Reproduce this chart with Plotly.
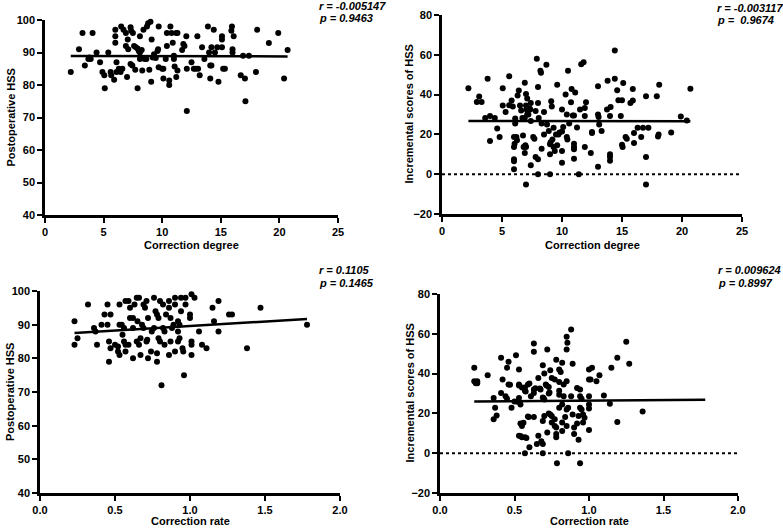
import plotly.graph_objects as go

# ---------------- data ----------------
# Top-left: Correction degree vs Postoperative HSS
tl_x = [2.2, 2.9, 3.2, 3.4, 3.7, 3.8, 3.9, 4.06, 4.4, 4.7, 4.9, 5.06, 5.1, 5.4, 5.6, 5.65, 5.9,
        6.0, 6.0, 6.0, 6.1, 6.1, 6.3, 6.45, 6.6, 6.5, 6.7, 6.9, 6.9, 7.0, 7.06, 7.1, 7.3, 7.45,
        7.3, 7.35, 7.5, 7.6, 7.75, 7.9, 7.7, 7.9, 8.0, 8.1, 8.25, 8.1, 8.1, 8.3, 8.4, 8.5, 8.65,
        8.7, 8.8, 9.0, 8.9, 9.06, 9.1, 9.2, 9.3, 9.45, 9.6, 9.65, 9.7, 9.7, 10.0, 10.1, 10.1,
        10.3, 10.4, 10.4, 10.6, 10.6, 10.7, 10.8, 10.9, 11.0, 11.0, 11.06, 11.2, 11.3, 11.2,
        11.3, 11.7, 11.8, 11.9, 12.06, 12.1, 12.1, 12.5, 12.7, 12.85, 13.0, 13.06, 13.2, 13.4,
        13.6, 13.9, 14.0, 14.1, 14.2, 14.1, 14.2, 14.4, 14.5, 14.7, 14.8, 15.1, 15.1, 15.1,
        15.2, 15.35, 15.9, 15.95, 16.0, 16.0, 16.1, 16.7, 16.9, 17.06, 17.1, 17.4, 18.0, 18.1,
        19.1, 19.9, 20.4, 20.7]
tl_y = [84, 91, 96, 86, 88, 88.5, 88, 96, 90, 87, 84, 83, 79, 90, 84, 83, 81.6,
        97, 95, 93, 87, 84, 85, 84, 85, 98, 97, 96, 92, 82.5, 94, 91, 86.5, 86,
        97.8, 96.7, 96, 92, 91.6, 91.2, 84.7, 79, 90.5, 90, 90.8, 95, 88, 84.5, 97, 88, 88,
        98, 99, 99.5, 84.7, 81, 94, 88.5, 89.5, 88.3, 90.5, 91, 85.5, 98, 85, 85, 82,
        88, 96, 92, 81.4, 80, 98, 96, 93, 88, 89, 85.7, 96, 96, 82.5,
        84.5, 90.8, 92.6, 92, 95, 85, 72, 87, 85, 85, 95, 85, 83, 91.6,
        88, 98, 90, 86, 86, 82, 91.6, 97, 90, 91.6, 81, 91.6, 94, 95,
        85, 85, 96.7, 98, 91, 90, 95, 83, 89, 82, 75, 89, 84, 97,
        92.9, 96, 82, 90.8]

# Top-right: Correction degree vs Incremental scores of HSS
tr_x = [2.2, 2.9, 3.3, 3.1, 3.6, 4.0, 4.4, 3.8, 4.6, 5.06, 5.06, 5.3, 5.6, 5.6, 5.8, 5.9,
        6.1, 6.1, 6.3, 6.4, 6.5, 6.6, 6.7, 6.9, 6.9, 7.0, 7.05, 7.1, 7.2, 7.1, 7.0, 7.3, 7.35,
        7.4, 7.4, 7.8, 7.9, 8.0, 8.0, 8.06, 8.2, 8.25, 8.3, 8.5, 8.7, 8.75, 8.9, 9.1, 9.15,
        9.3, 9.5, 9.6, 10.0, 10.1, 10.3, 10.4, 10.5, 10.6, 10.75, 10.8, 10.9, 11.0, 11.1,
        11.25, 11.5, 11.6, 11.8, 11.9, 11.9, 12.0, 12.5, 13.0, 13.0, 13.05, 13.1, 13.75, 13.8,
        14.0, 14.05, 14.4, 14.4, 14.6, 14.7, 15.0, 14.9, 15.1, 15.7, 15.9, 15.9, 17.0, 17.9,
        16.3, 16.75, 17.2, 18.05, 18.1, 18.0, 19.1, 19.9, 20.4, 20.7,
        4.0, 4.8, 6.0, 6.0, 6.05, 6.0, 6.0, 6.0, 6.2, 6.25, 6.8, 6.95, 7.0, 6.75, 6.9, 7.0,
        7.4, 7.6, 7.7, 7.8, 8.0, 8.0, 8.3, 8.5, 9.0, 9.05, 9.0, 9.0, 9.2, 9.3, 9.4, 9.6, 9.7,
        9.8, 10.0, 10.0, 10.0, 10.4, 10.45, 11.0, 11.0, 11.0, 11.0, 11.4, 11.9, 12.4, 12.5,
        13.0, 13.3, 14.0, 14.0, 14.0, 15.0, 15.05, 15.3, 15.4, 16.0, 16.0, 16.6, 17.0, 17.0]
tr_y = [43.2, 36.3, 36.3, 39, 28.3, 29.2, 28.2, 48, 23, 43.2, 34.5, 31.2, 49.2, 34.7, 37, 34,
        28, 25.5, 39.5, 42, 34.5, 32, 28.3, 28.3, 46, 34.5, 32.5, 30, 30, 38, 40.3, 33, 32.5,
        26.7, 35.8, 31.7, 58, 43.8, 35.8, 28.3, 52, 51, 25.5, 31.2, 55, 25, 21.7, 36.7, 34,
        23.3, 20, 45, 32.5, 23.7, 40, 30, 52, 25.5, 36.2, 42.8, 29.5, 29.5, 41,
        23.5, 32.5, 55.3, 56.3, 29.2, 33.3, 36.2, 21.2, 44.2, 30, 28.8, 25, 32.5, 47,
        29.2, 33.8, 62.2, 48, 42.2, 37.2, 37.2, 29.2, 45.8, 35.8, 37, 42.8, 39.2, 39.2,
        23.3, 23.3, 23.3, 20, 45, 19, 21, 29, 27, 43,
        16.7, 18.7, 13.7, 18.7, 15.3, 7.5, 6.5, 2.5, 18.7, 17, 13.7, 14.5, 13.7, 19.5, 10.7, -5.2,
        4.5, 18.7, 17.8, 8.7, 7.5, 0, 12.8, 20, 15, 16, 10, 0, 17.5, 13.7, 11.7, 14.5, 20,
        21, 21.5, 11.7, 5.7, 18.7, 17.5, 15.3, 13.7, 12.5, 7.8, 0, 13.7, 10.7, 20.7,
        3.7, 21.7, 10, 8.7, 6.7, 14.8, 13.7, 18.7, 17.8, 15.7, 20.7, 18.7, 8.7, -5.2]

# Bottom-left: Correction rate vs Postoperative HSS
bl_x = [0.23, 0.25, 0.23, 0.32, 0.36, 0.37, 0.38, 0.41, 0.43, 0.45, 0.45, 0.46, 0.46, 0.47,
        0.47, 0.50, 0.52, 0.52, 0.53, 0.53, 0.53, 0.545, 0.56, 0.55, 0.56, 0.57, 0.59, 0.57,
        0.59, 0.57, 0.60, 0.60, 0.62, 0.62, 0.62, 0.63, 0.645, 0.66, 0.645, 0.66, 0.67, 0.65,
        0.67, 0.68, 0.69, 0.69, 0.70, 0.71, 0.715, 0.71, 0.72, 0.72, 0.74, 0.76, 0.745, 0.76,
        0.77, 0.78, 0.78, 0.78, 0.79, 0.79, 0.80, 0.80, 0.81, 0.82, 0.82, 0.83, 0.83, 0.84,
        0.86, 0.86, 0.86, 0.87, 0.87, 0.88, 0.89, 0.90, 0.90, 0.90, 0.92, 0.93, 0.92, 0.92,
        0.93, 0.94, 0.97, 0.94, 0.95, 0.955, 0.96, 0.97, 1.0, 1.0, 1.01, 1.03, 1.01, 1.01,
        1.01, 1.06, 1.08, 1.11, 1.15, 1.16, 1.19, 1.19, 1.26, 1.28, 1.38, 1.47, 1.78]
bl_y = [91, 86, 84, 96, 89, 88, 84, 90, 93, 96, 90, 85, 79, 93,
        83, 84, 83.5, 82, 81, 96, 90, 90, 89, 87, 85, 84, 84, 97,
        97, 82, 92, 95, 80, 89, 92, 96, 98, 98, 85, 84, 86, 91,
        81, 90, 89, 96, 95, 85, 85.5, 97, 92, 80, 82, 98, 88, 89,
        94, 93, 81.5, 79, 92, 86, 85, 97, 72, 96, 89, 88, 84, 93,
        97, 95, 81, 92, 85, 89, 90, 82, 98, 96, 88, 86, 85, 91,
        90, 98, 98, 94, 83, 82, 75, 96, 92, 93, 99, 98, 85, 84,
        81, 88, 84, 83, 95, 91, 97, 88, 93, 93, 83, 95, 90]

# Bottom-right: Correction rate vs Incremental scores of HSS
br_x = [0.23, 0.23, 0.25, 0.32, 0.41, 0.42, 0.45, 0.46, 0.46, 0.51, 0.53, 0.53, 0.57, 0.59,
        0.60, 0.63, 0.63, 0.63, 0.66, 0.69, 0.70, 0.72, 0.71, 0.715, 0.73, 0.74, 0.75, 0.77,
        0.78, 0.80, 0.81, 0.80, 0.82, 0.83, 0.85, 0.85, 0.855, 0.88, 0.85, 0.89, 0.92, 0.94,
        1.0, 1.01, 1.0, 1.02, 1.05, 1.07, 1.15, 1.19, 1.25, 1.27,
        0.24, 0.25, 0.36, 0.37, 0.38, 0.36, 0.41, 0.44, 0.45, 0.47, 0.48, 0.50, 0.52, 0.53,
        0.53, 0.54, 0.55, 0.57, 0.575, 0.54, 0.55, 0.56, 0.53, 0.54, 0.55, 0.57, 0.58, 0.57,
        0.60, 0.59, 0.595, 0.61, 0.63, 0.63, 0.64, 0.65, 0.66, 0.67, 0.675, 0.68, 0.69, 0.695,
        0.70, 0.69, 0.69, 0.70, 0.69, 0.72, 0.73, 0.735, 0.73, 0.74, 0.75, 0.75, 0.77, 0.77,
        0.78, 0.785, 0.78, 0.78, 0.80, 0.80, 0.80, 0.82, 0.82, 0.82, 0.83, 0.84, 0.85, 0.85,
        0.86, 0.86, 0.88, 0.89, 0.90, 0.90, 0.92, 0.93, 0.93, 0.94, 0.94, 0.94, 0.95, 0.95,
        0.96, 0.96, 0.97, 1.0, 1.0, 1.0, 1.0, 1.10, 1.14, 1.19, 1.36, 1.46, 1.78]
br_y = [43, 36.1, 36.1, 39.2, 48, 37, 43, 46, 34.5, 49.2, 42, 34.5, 33, 34.5,
        35, 55.1, 51, 32, 37.8, 44.2, 40, 52.1, 34.5, 34, 33.3, 41.7, 37.8, 37,
        47, 42, 40.8, 35.8, 45.4, 34.5, 52.1, 58.5, 55.5, 62.2, 36.1, 45, 32.8, 32,
        37, 37, 42, 43, 36.1, 39.2, 43, 48, 56, 45,
        35.2, 35.2, 27.8, 22.8, 19, 17, 30.2, 28.6, 27.4, 34.4, 22.8, 26, 25.8, 34,
        27.8, 24.5, 33, 31.4, 31, 14.9, 13.7, 15.3, 8.8, 8.6, 8, 8, 7.6, 0,
        3, 18.5, 18.2, 28.6, 30.2, 18.2, 32.7, 4.6, 8.8, 32.5, 32, 6, 28, 27.6,
        27, 4.6, 16.2, 18.7, 0, 10.4, 30, 30.5, 20, 19.5, 18.7, 15.4,
        17, 13.7, 9.6, -5, 12.9, 8, 31.4, 29.4, 22.8, 11.2, 15.4, 24.5, 28.6, 18.2,
        13.7, 22, 0, 22.8, 28.6, 19.5, 12.9, 9.6, 14.9, 6.8, 18.7, 22.8, -5, 28.6,
        27.4, 22, 15.4, 19.5, 17.8, 11.6, 28.6, 22.5, 24.5, 29, 24.8, 15.7, 21]

# Regression lines (end points)
fit_tl_x, fit_tl_y = [2.2, 20.7], [88.9, 88.8]
fit_tr_x, fit_tr_y = [2.2, 20.7], [26.7, 26.6]
fit_bl_x, fit_bl_y = [0.23, 1.78], [87.5, 91.7]
fit_br_x, fit_br_y = [0.23, 1.78], [26.0, 26.8]

stats_tl = ["r = -0.005147", "p = 0.9463"]
stats_tr = ["r = -0.003117", "p =\u00a0 0.9674"]
stats_bl = ["r = 0.1105", "p = 0.1465"]
stats_br = ["r = 0.009624", "p = 0.8997"]

deg_ticks = [0, 5, 10, 15, 20, 25]
rate_ticks = [0.0, 0.5, 1.0, 1.5, 2.0]
post_ticks = [40, 50, 60, 70, 80, 90, 100]
inc_ticks = [-20, 0, 20, 40, 60, 80]

x_title_deg = "Correction degree"
x_title_rate = "Correction rate"
y_title_post = "Postoperative HSS"
y_title_inc = "Incremental scores of HSS"

# ---------------- figure ----------------
W, H = 783, 528
FONT = "Liberation Sans, Arial, sans-serif"

def px(x):
    return x / W

def py(y):
    return 1 - y / H

fig = go.Figure()

panels = [
    ("x", "y", tl_x, tl_y, fit_tl_x, fit_tl_y, False),
    ("x2", "y2", tr_x, tr_y, fit_tr_x, fit_tr_y, True),
    ("x3", "y3", bl_x, bl_y, fit_bl_x, fit_bl_y, False),
    ("x4", "y4", br_x, br_y, fit_br_x, fit_br_y, True),
]
xmax = {"x": 25, "x2": 25, "x3": 2, "x4": 2}

for xa, ya, xs, ys, fx, fy, zero in panels:
    if zero:
        fig.add_trace(go.Scatter(x=[0, xmax[xa]], y=[0, 0], mode="lines",
                                 line=dict(color="black", width=2, dash="dot"),
                                 xaxis=xa, yaxis=ya, showlegend=False, hoverinfo="skip"))
    fig.add_trace(go.Scatter(x=xs, y=ys, mode="markers",
                             marker=dict(color="black", size=6),
                             xaxis=xa, yaxis=ya, showlegend=False, cliponaxis=False))
    fig.add_trace(go.Scatter(x=fx, y=fy, mode="lines",
                             line=dict(color="black", width=2.5),
                             xaxis=xa, yaxis=ya, showlegend=False))

tickfont = dict(family=FONT, size=11, color="black", weight="bold")

def xaxis(domain, rng, ticks, fmt, anchor):
    return dict(domain=domain, range=rng, tickvals=ticks, tickformat=fmt,
                showline=True, linecolor="black", linewidth=2.5, mirror=False,
                ticks="outside", ticklen=5, tickwidth=2, tickcolor="black",
                showgrid=False, zeroline=False, anchor=anchor, automargin=False,
                tickfont=tickfont)

def yaxis(domain, rng, ticks, anchor):
    return dict(domain=domain, range=rng, tickvals=ticks,
                showline=True, linecolor="black", linewidth=2.5, mirror=False,
                ticks="outside", ticklen=5, tickwidth=2, tickcolor="black",
                showgrid=False, zeroline=False, anchor=anchor, automargin=False,
                tickfont=tickfont)

fig.update_layout(
    width=W, height=H,
    margin=dict(l=0, r=0, t=0, b=0, autoexpand=False),
    paper_bgcolor="white", plot_bgcolor="white",
    font=dict(family=FONT, color="black"),
    xaxis=xaxis([px(45), px(338)], [0, 25], deg_ticks, "d", "y"),
    yaxis=yaxis([py(215), py(20)], [40, 100], post_ticks, "x"),
    xaxis2=xaxis([px(442), px(742)], [0, 25], deg_ticks, "d", "y2"),
    yaxis2=yaxis([py(214), py(15)], [-20, 80], inc_ticks, "x2"),
    xaxis3=xaxis([px(40), px(340)], [0, 2], rate_ticks, ".1f", "y3"),
    yaxis3=yaxis([py(493), py(291)], [40, 100], post_ticks, "x3"),
    xaxis4=xaxis([px(440), px(738)], [0, 2], rate_ticks, ".1f", "y4"),
    yaxis4=yaxis([py(493), py(294)], [-20, 80], inc_ticks, "x4"),
)

# axis titles
titles = [(x_title_deg, (45 + 338) / 2, 245, 0),
          (x_title_deg, (442 + 742) / 2, 245, 0),
          (x_title_rate, (40 + 340) / 2, 521, 0),
          (x_title_rate, (440 + 738) / 2, 521, 0),
          (y_title_post, 10, (20 + 215) / 2, -90),
          (y_title_inc, 409, (15 + 214) / 2, -90),
          (y_title_post, 10, (291 + 493) / 2, -90),
          (y_title_inc, 409, (294 + 493) / 2, -90)]
for t, xx, yy, ang in titles:
    fig.add_annotation(text="<b>" + t + "</b>", xref="paper", yref="paper",
                       x=px(xx), y=py(yy), xanchor="center", yanchor="middle", textangle=ang,
                       showarrow=False, borderpad=0,
                       font=dict(family=FONT, size=11, color="black"))

ann_pos = [(stats_tl, 318, 6, 18), (stats_tr, 716, 8, 20),
           (stats_bl, 318, 270, 283), (stats_br, 717, 270, 283)]
for texts, xl, yr, yp in ann_pos:
    for t, yy in zip(texts, [yr, yp]):
        fig.add_annotation(text="<b><i>" + t + "</i></b>", xref="paper", yref="paper",
                           x=px(xl), y=py(yy), xanchor="left", yanchor="middle",
                           showarrow=False, borderpad=0,
                           font=dict(family=FONT, size=11, color="black"))

fig.write_html("out.html", config={"displayModeBar": False},
               post_script="document.body.style.margin='0';document.body.style.overflow='hidden';")
